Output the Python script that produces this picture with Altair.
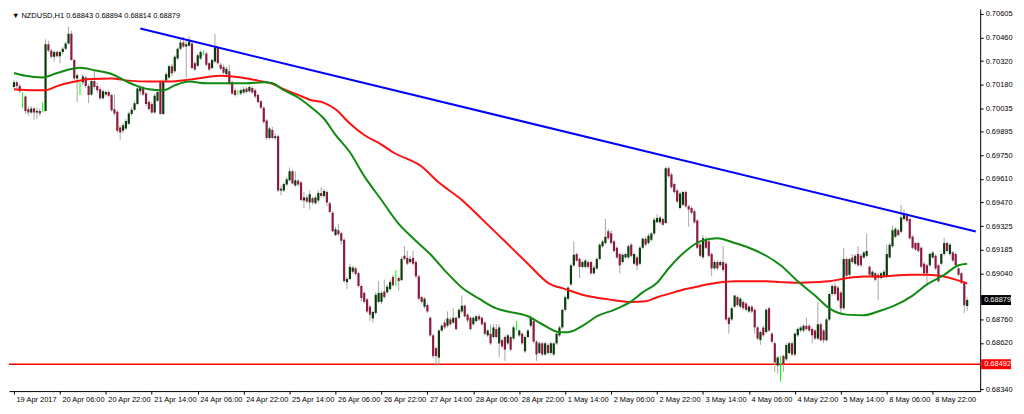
import json
import altair as alt
import pandas as pd

# ---------------- data (prices x 1e5), one value per H1 bar ----------------
opens = [
70163,70192,70169,70115,70106,70029,70010,70034,70010,70019,70029,70019,70422,70384,70346,70374,70349,70374,70394,70426,
70484,70326,70215,70163,70192,70221,70169,70119,70200,70169,70150,70096,70119,70134,70115,70029,70015,69919,69900,69914,
69942,70000,70027,70061,70138,70157,70125,70073,70061,70010,70081,70192,70000,70202,70221,70288,70259,70336,70394,70432,
70407,70413,70426,70307,70292,70336,70374,70365,70307,70278,70317,70403,70298,70284,70240,70259,70192,70144,70130,70125,
70130,70154,70138,70157,70144,70115,70077,70038,69962,69856,69904,69856,69866,69540,69540,69575,69601,69655,69569,69598,
69588,69479,69498,69467,69492,69463,69479,69525,69506,69530,69463,69406,69271,69300,69281,69242,68987,69006,69050,69070,
69041,68964,68922,68883,68839,68768,68801,68868,68868,68930,68926,68945,69018,69012,69012,68999,69146,69133,69108,69133,
69108,69022,68897,68839,68849,68772,68666,68589,68532,68695,68743,68724,68762,68743,68772,68772,68810,68845,68791,68772,
68733,68752,68781,68772,68743,68666,68676,68656,68704,68618,68637,68656,68618,68656,68647,68724,68666,68676,68570,68656,
68724,68752,68628,68560,68618,68551,68608,68560,68551,68618,68666,68714,68820,68887,68973,69088,69156,69127,69079,69079,
69108,69108,69040,69069,69127,69204,69223,69294,69281,69232,69194,69156,69108,69136,69136,69213,69098,69136,69098,69194,
69248,69223,69242,69280,69348,69348,69367,69344,69674,69636,69578,69540,69434,69454,69530,69444,69434,69415,69358,69214,
69137,69242,69233,69156,69070,69108,69089,69108,69098,68772,68762,68839,68897,68839,68868,68858,68810,68839,68820,68714,
68638,68714,68686,68830,68676,68618,68484,68503,68541,68522,68560,68618,68551,68666,68695,68695,68724,68724,68704,68695,
68647,68733,68695,68637,68762,68916,68964,68954,68925,68829,69127,69031,69136,69098,69156,69146,69136,69146,69079,69021,
69040,69031,69012,69021,69021,69136,69204,69261,69300,69290,69367,69386,69367,69261,69223,69223,69194,69098,69088,69088,
69136,69146,69088,69098,69156,69223,69156,69165,69156,69069,69040,68983,68843]
highs = [
70205,70202,70182,70134,70115,70048,70048,70042,70038,70032,70073,70451,70442,70394,70384,70384,70384,70407,70438,70528,
70503,70336,70246,70192,70240,70230,70182,70211,70259,70192,70163,70150,70144,70144,70123,70119,70023,69933,69946,69971,
70015,70042,70081,70163,70176,70169,70134,70086,70073,70125,70150,70202,70211,70253,70298,70303,70355,70403,70451,70465,
70442,70470,70438,70317,70365,70384,70384,70374,70317,70336,70484,70413,70311,70298,70288,70298,70202,70154,70144,70154,
70163,70163,70173,70169,70154,70125,70086,70048,69971,69923,69923,69885,69875,69569,69588,69621,69678,69665,69655,69607,
69598,69530,69511,69540,69502,69511,69540,69559,69550,69540,69473,69415,69319,69338,69290,69252,69018,69098,69083,69079,
69050,68974,68929,68891,68849,68814,68926,68993,68935,69002,68974,69002,69031,69060,69022,69141,69204,69175,69146,69175,
69118,69031,68906,68897,68858,68781,68676,68599,68704,68733,68762,68810,68776,68829,68781,68829,68906,68852,68800,68781,
68781,68791,68794,68781,68752,68704,68733,68733,68733,68733,68647,68666,68676,68666,68724,68752,68704,68685,68666,68704,
68791,68762,68637,68628,68628,68628,68618,68628,68622,68685,68724,68829,68906,68964,69098,69232,69165,69136,69117,69127,
69117,69117,69088,69136,69223,69242,69367,69309,69300,69242,69204,69165,69160,69165,69213,69223,69165,69146,69204,69256,
69261,69280,69290,69376,69396,69386,69377,69684,69684,69646,69588,69550,69530,69540,69540,69454,69444,69425,69367,69223,
69271,69262,69242,69166,69118,69118,69118,69204,69108,68782,68839,68910,68906,68897,68877,68868,68849,68849,68830,68724,
68695,68724,68830,68839,68686,68628,68541,68541,68551,68618,68628,68628,68685,68714,68724,68733,68772,68733,68714,68704,
68868,68743,68704,68772,68925,68973,68983,68964,68935,69194,69136,69136,69156,69156,69204,69156,69175,69280,69088,69060,
69050,69040,69050,69060,69213,69223,69328,69319,69309,69453,69424,69405,69376,69271,69232,69232,69204,69108,69098,69165,
69175,69156,69098,69165,69255,69232,69223,69175,69165,69079,69050,68992,68894]
lows = [
70154,70157,70125,70038,70000,69990,70000,69966,69971,69990,70010,70015,70374,70336,70317,70342,70307,70361,70384,70419,
70323,70207,70073,70115,70173,70157,70067,70111,70150,70130,70086,70086,70106,70100,70015,69990,69889,69846,69885,69904,
69933,69990,70019,70054,70115,70111,70048,70019,70000,70004,70073,69996,69996,70192,70211,70230,70250,70326,70384,70399,
70221,70407,70269,70259,70284,70326,70355,70288,70259,70269,70307,70298,70265,70240,70230,70173,70115,70106,70115,70115,
70123,70125,70130,70123,70096,70065,70029,69942,69846,69846,69850,69842,69530,69511,69530,69563,69594,69575,69559,69563,
69473,69434,69463,69425,69454,69454,69467,69498,69492,69444,69402,69287,69262,69267,69214,68983,68945,68999,69037,69025,
68954,68872,68858,68801,68753,68743,68791,68858,68853,68887,68916,68935,68960,68964,68935,68993,69118,69089,69098,69089,
69012,68877,68858,68830,68801,68656,68526,68484,68487,68685,68704,68714,68724,68733,68695,68762,68800,68772,68743,68695,
68724,68743,68752,68724,68666,68656,68608,68647,68647,68532,68589,68512,68608,68570,68637,68695,68656,68608,68560,68647,
68714,68618,68512,68551,68541,68541,68551,68551,68541,68608,68656,68704,68810,68877,68964,69079,69108,69012,69069,69069,
69069,69031,69031,69060,69117,69194,69213,69242,69213,69165,69127,69040,69098,69127,69127,69136,69088,69060,69088,69184,
69204,69213,69232,69271,69344,69338,69325,69338,69617,69550,69521,69463,69425,69444,69434,69319,69396,69338,69185,69137,
69127,69185,69137,69022,69060,69060,69079,69050,68753,68676,68753,68830,68839,68830,68820,68810,68800,68800,68676,68638,
68609,68657,68676,68686,68618,68445,68436,68388,68445,68512,68551,68541,68541,68656,68685,68685,68695,68685,68618,68637,
68637,68628,68618,68628,68752,68906,68906,68868,68800,68820,69017,69021,69098,69088,69079,69079,69127,69136,69021,69012,
68992,68877,69002,69012,69012,69127,69194,69252,69261,69280,69357,69348,69242,69184,69175,69165,69069,69021,68964,69079,
69127,69060,68983,69088,69146,69165,69146,69108,69079,69021,68973,68800,68814]
closes = [
70192,70169,70138,70115,70019,70010,70034,70010,70019,70004,70029,70422,70384,70346,70374,70349,70374,70394,70426,70484,
70326,70215,70234,70163,70227,70169,70115,70200,70163,70144,70096,70138,70134,70111,70023,70004,69900,69889,69933,69958,
70004,70027,70065,70154,70163,70119,70061,70031,70010,70111,70134,70000,70200,70240,70288,70246,70346,70394,70432,70407,
70422,70438,70278,70269,70355,70374,70374,70298,70269,70326,70403,70307,70273,70250,70273,70182,70125,70115,70130,70144,
70150,70134,70163,70130,70106,70073,70038,69952,69856,69914,69856,69866,69539,69550,69578,69607,69655,69582,69601,69575,
69482,69498,69473,69517,69467,69498,69525,69506,69536,69467,69410,69294,69306,69275,69237,68993,69006,69079,69075,69037,
68964,68891,68868,68810,68791,68807,68910,68922,68922,68897,68960,68987,68968,69012,68993,69127,69127,69098,69127,69098,
69022,68887,68868,68887,68810,68666,68541,68541,68695,68724,68714,68768,68733,68772,68704,68820,68845,68781,68756,68704,
68772,68781,68762,68733,68676,68695,68618,68714,68656,68714,68599,68580,68666,68580,68714,68724,68695,68618,68656,68695,
68772,68628,68551,68618,68551,68618,68560,68618,68618,68676,68714,68820,68896,68954,69088,69152,69117,69079,69108,69117,
69079,69040,69075,69127,69213,69232,69261,69252,69223,69175,69136,69088,69152,69156,69204,69146,69156,69088,69194,69248,
69213,69267,69280,69363,69373,69377,69333,69674,69626,69559,69530,69473,69521,69530,69444,69425,69406,69348,69194,69146,
69252,69194,69146,69070,69108,69070,69108,69060,68762,68734,68830,68906,68849,68887,68830,68820,68839,68810,68714,68647,
68686,68666,68820,68695,68628,68503,68532,68503,68493,68608,68618,68551,68676,68704,68714,68724,68704,68695,68666,68647,
68733,68637,68637,68762,68916,68964,68916,68877,68829,69127,69025,69127,69108,69146,69088,69088,69165,69175,69031,69050,
69002,69012,69040,69050,69156,69213,69300,69309,69271,69376,69396,69357,69252,69194,69184,69175,69079,69040,69040,69156,
69165,69069,68992,69156,69223,69175,69213,69117,69088,69031,68983,68848,68879]

# moving averages (bar index, price x 1e5)
green_idx = [0,4,10,15,23,28,34,38,43,47,52,56,61,67,74,81,87,90,94,99,103,108,112,117,122,128,134,139,145,151,
             156,162,168,172,179,184,190,193,198,203,209,215,219,224,228,234,239,245,251,256,262,267,273,279,284,290,
             296,301,307,313,318,324,329,332]
green_val = [70248,70231,70221,70248,70279,70265,70242,70208,70169,70150,70144,70173,70196,70186,70186,70186,70192,
             70186,70144,70100,70048,69972,69875,69770,69626,69482,69338,69252,69155,69040,68954,68887,68829,68810,
             68781,68733,68685,68685,68723,68781,68820,68871,68925,68983,69069,69175,69233,69252,69223,69194,69146,
             69089,68992,68906,68829,68791,68787,68810,68848,68906,68973,69031,69089,69098]
red_idx = [0,7,11,15,20,27,34,40,47,54,61,67,72,79,85,90,94,99,103,108,112,117,122,128,132,142,148,156,163,171,
           179,186,192,199,207,215,220,224,228,234,239,245,251,256,262,267,273,279,284,290,296,301,307,313,318,324,
           328,332]
red_val = [70150,70144,70144,70169,70192,70212,70215,70202,70196,70196,70208,70223,70231,70221,70202,70183,70150,
           70116,70087,70068,70029,69943,69874,69816,69770,69684,69587,69482,69367,69233,69098,68983,68945,68906,
           68883,68867,68871,68896,68916,68945,68964,68983,68992,68992,68992,68987,68983,68987,68992,69011,69021,
           69021,69027,69031,69031,69021,69002,68979]

trend_idx = [44, 335]
trend_val = [0.70516, 0.69292]
support_price = 0.68492
last_price = 0.68879

y_ticks = [0.70605, 0.70460, 0.70320, 0.70180, 0.70035, 0.69895, 0.69750, 0.69610, 0.69470,
           0.69325, 0.69185, 0.69040, 0.68900, 0.68760, 0.68620, 0.68480, 0.68340]
# ticks whose labels sit behind the price boxes
hidden_ticks = [0.68900, 0.68480]
x_tick_idx = list(range(0, 321, 16))
x_tick_labels = ["19 Apr 2017", "20 Apr 06:00", "20 Apr 22:00", "21 Apr 14:00", "24 Apr 06:00",
                 "24 Apr 22:00", "25 Apr 14:00", "26 Apr 06:00", "26 Apr 22:00", "27 Apr 14:00",
                 "28 Apr 06:00", "28 Apr 22:00", "1 May 14:00", "2 May 06:00", "2 May 22:00",
                 "3 May 14:00", "4 May 06:00", "4 May 22:00", "5 May 14:00", "8 May 06:00", "8 May 22:00"]
header = "\u25bc NZDUSD,H1   0.68843 0.68894 0.68814 0.68879"

# ---------------- build ----------------
W, H = 976, 384
FONT = "Liberation Sans"
FS = 7.5

n = len(closes)
df = pd.DataFrame({
    "i": list(range(n)),
    "o": [v / 1e5 for v in opens],
    "h": [v / 1e5 for v in highs],
    "l": [v / 1e5 for v in lows],
    "c": [v / 1e5 for v in closes],
})
df["doji"] = df["o"] == df["c"]

xscale = alt.Scale(domain=[0, 334.8], nice=False, zero=False)
yscale = alt.Scale(domain=[0.68330, 0.70634], nice=False, zero=False)

label_expr = json.dumps(x_tick_labels) + "[round(datum.value / 16)]"
hide_cond = " || ".join(f"abs(datum.value - {v}) < 0.000001" for v in hidden_ticks)
y_label_expr = f"({hide_cond}) ? '' : format(datum.value, '.5f')"

xaxis = alt.Axis(values=x_tick_idx, labelExpr=label_expr, title=None, grid=False,
                 labelAlign="left", labelOffset=2, labelPadding=1, tickSize=3,
                 labelFont=FONT, labelFontSize=FS, labelColor="black",
                 tickColor="black", domainColor="black", labelOverlap=False, labelFlush=False)
yaxis = alt.Axis(values=y_ticks, labelExpr=y_label_expr, orient="right", title=None, grid=False,
                 tickSize=3, labelPadding=2, labelFont=FONT, labelFontSize=FS, labelColor="black",
                 tickColor="black", domainColor="black", labelOverlap=False, labelFlush=False)

X = lambda f: alt.X(f, type="quantitative", scale=xscale, axis=xaxis)
Y = lambda f: alt.Y(f, type="quantitative", scale=yscale, axis=yaxis)

base = alt.Chart(df)

wicks = base.mark_rule(strokeWidth=1, clip=True).encode(
    x=X("i"), y=Y("l"), y2="h",
    color=alt.condition("datum.doji", alt.value("#00ff00"), alt.value("#a6a6a6")),
)
bodies = base.transform_filter("!datum.doji").mark_bar(size=2.2, clip=True).encode(
    x=X("i"), y=Y("o"), y2="c",
    color=alt.condition("datum.c > datum.o", alt.value("#0b3a0b"), alt.value("#8c1b3d")),
)

gdf = pd.DataFrame({"i": green_idx, "p": [v / 1e5 for v in green_val]})
rdf = pd.DataFrame({"i": red_idx, "p": [v / 1e5 for v in red_val]})
tdf = pd.DataFrame({"i": trend_idx, "p": trend_val})

green_line = alt.Chart(gdf).mark_line(color="#118a11", strokeWidth=2, interpolate="monotone", clip=True).encode(
    x=X("i"), y=Y("p"))
red_line = alt.Chart(rdf).mark_line(color="#ff1010", strokeWidth=2, interpolate="monotone", clip=True).encode(
    x=X("i"), y=Y("p"))
trend = alt.Chart(tdf).mark_line(color="#0000ff", strokeWidth=2, clip=True).encode(
    x=X("i"), y=Y("p"))

sdf = pd.DataFrame({"p": [support_price]})
support = alt.Chart(sdf).mark_rule(color="#ff0000", strokeWidth=1.5).encode(y=Y("p"))

boxes_df = pd.DataFrame({
    "p": [last_price, support_price],
    "txt": [f"{last_price:.5f}", f"{support_price:.5f}"],
    "bg": ["black", "red"],
})
boxes = alt.Chart(boxes_df).mark_rule(strokeWidth=10).encode(
    x=alt.value(W + 1), x2=alt.value(W + 31), y=Y("p"),
    color=alt.Color("bg:N", scale=None),
)
box_text = alt.Chart(boxes_df).mark_text(align="left", baseline="middle", font=FONT,
                                          fontSize=FS, color="white").encode(
    x=alt.value(W + 4), y=Y("p"), text="txt:N")

hdr = alt.Chart(pd.DataFrame({"t": [header]})).mark_text(
    align="left", baseline="middle", font=FONT, fontSize=FS, color="black").encode(
    x=alt.value(3), y=alt.value(7), text="t:N")

chart = alt.layer(support, wicks, bodies, red_line, green_line, trend, boxes, box_text, hdr).properties(
    width=W, height=H, padding=0, background="white"
).configure_view(strokeWidth=0)

chart.save("out.html", embed_options={"renderer": "svg", "actions": False})
